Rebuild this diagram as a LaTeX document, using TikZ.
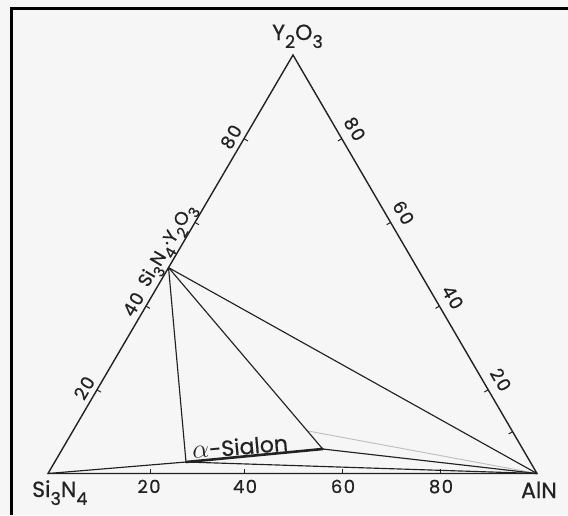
\documentclass[tikz,border=0pt]{standalone}
\usepackage{fontspec}
\setmainfont{Poppins}[FakeBold=0.6]
\usepackage{graphicx}
\usetikzlibrary{calc}
\newcommand{\sbs}[1]{\raisebox{-0.36em}{\scalebox{0.8}{#1}}}
\definecolor{ink}{RGB}{34,34,34}
\definecolor{paper}{RGB}{246,246,247}
\begin{document}
\begin{tikzpicture}[x=1pt,y=-1pt,
  edge/.style={draw=ink, line width=1.4pt, line join=miter},
  tie/.style={draw=ink, line width=1.15pt},
  ghost/.style={draw=ink!30, line width=0.9pt},
  tickmark/.style={draw=ink, line width=1pt},
  vlabel/.style={font=\fontsize{22}{26}\selectfont, text=ink, inner sep=0pt},
  tlabel/.style={font=\fontsize{18}{21}\selectfont\addfontfeature{LetterSpace=8}, text=ink, inner sep=0pt},
  clabel/.style={font=\fontsize{18.5}{22}\selectfont, text=ink, inner sep=0pt},
  slabel/.style={font=\fontsize{22}{26}\selectfont, text=ink, inner sep=0pt},
]
\fill[paper] (0,0) rectangle (568,515);
\useasboundingbox (0,0) rectangle (568,515);
\fill[black] (10,6.5) rectangle (568,10);
\fill[black] (10,6.5) rectangle (13,515);

% vertices and internal points
\coordinate (S) at (48,473.5);
\coordinate (A) at (537,473.5);
\coordinate (Y) at (293,55);
\coordinate (C) at ($(S)!0.492!(Y)$);
\coordinate (P1) at (186,462);
\coordinate (P2) at (322.7,449);
\coordinate (G) at ($(C)!0.9!(P2)$);

% faint ghost line
\draw[ghost] (G) -- (A);

% triangle
\draw[edge] (S) -- (A) -- (Y) -- cycle;

% tie lines
\draw[tie] (C) -- (P1);
\draw[tie] (C) -- (P2);
\draw[tie] (C) -- (A);
\draw[tie] (S) -- (P1);
\draw[tie] (P1) -- (A);
\draw[tie] (P2) -- (A);
\draw[draw=ink, line width=2.6pt, line cap=round] (P1) -- (P2);

% ticks
\foreach \f in {0.2,0.4,0.6,0.8} {
  \coordinate (lt) at ($(S)!\f!(Y)$);
  \draw[tickmark] (lt) -- ($(lt)!4.5pt!-90:(Y)$);
}
\foreach \x in {150,244,342,440} {
  \coordinate (bt) at (\x,473.5);
  \draw[tickmark] (bt) -- ($(bt)+(0,-4.5)$);
}
\foreach \f in {0.1,0.2,0.4,0.6,0.8} {
  \coordinate (rt) at ($(A)!\f!(Y)$);
  \draw[tickmark] (rt) -- ($(rt)!4.5pt!90:(Y)$);
}

% left edge labels
\node[tlabel, rotate=59.6] (l20) at ($($(S)!0.19!(Y)$)!12pt!90:(Y)$) {20};
\node[tlabel, rotate=59.6] (l40) at ($($(S)!0.39!(Y)$)!12pt!90:(Y)$) {40};
\node[tlabel, rotate=59.6] (l80) at ($($(S)!0.79!(Y)$)!12pt!90:(Y)$) {80};
\node[clabel, rotate=59.6] (comp) at ($($(S)!0.53!(Y)$)!11pt!90:(Y)$) {Si\sbs{3}N\sbs{4}·Y\sbs{2}O\sbs{3}};

% right edge labels
\node[tlabel, rotate=-59.7] (r20) at ($($(A)!0.205!(Y)$)!16pt!-90:(Y)$) {20};
\node[tlabel, rotate=-59.7] (r40) at ($($(A)!0.402!(Y)$)!16pt!-90:(Y)$) {40};
\node[tlabel, rotate=-59.7] (r60) at ($($(A)!0.604!(Y)$)!16pt!-90:(Y)$) {60};
\node[tlabel, rotate=-59.7] (r80) at ($($(A)!0.804!(Y)$)!16pt!-90:(Y)$) {80};

% base labels
\node[tlabel, anchor=base] (b20) at (149,493) {20};
\node[tlabel, anchor=base] (b40) at (245,493) {40};
\node[tlabel, anchor=base] (b60) at (343,493) {60};
\node[tlabel, anchor=base] (b80) at (441,493) {80};

% vertex labels
\node[vlabel, anchor=base west] (ySi) at (32,497) {Si\sbs{3}N\sbs{4}};
\node[vlabel, anchor=base east] (yAl) at (557,498) {AlN};
\node[vlabel, anchor=base west] (yY) at (272,40) {Y\sbs{2}O\sbs{3}};

% alpha-sialon
\node[slabel, rotate=5] (sial) at (240,446.5) {\scalebox{1.3}{$\alpha$}-Sialon};
\end{tikzpicture}
\end{document}
